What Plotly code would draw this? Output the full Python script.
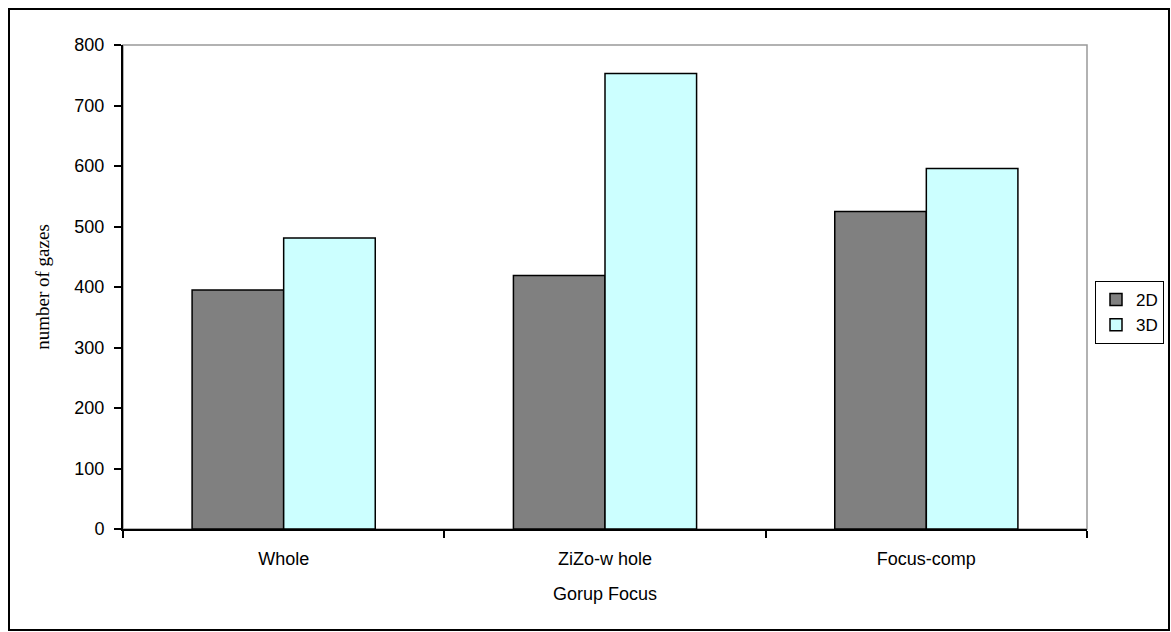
import plotly.graph_objects as go

categories = ["Whole", "ZiZo-w hole", "Focus-comp"]
values_2d = [395, 419, 525]
values_3d = [481, 753, 596]
y_ticks = [0, 100, 200, 300, 400, 500, 600, 700, 800]

W, H = 1171, 632
L, R, T, B = 123, 84, 45, 103
pw, ph = W - L - R, H - T - B


def px_x(x):
    return (x - L) / pw


def px_y(y):
    return (H - B - y) / ph


fig = go.Figure()
fig.add_trace(go.Bar(x=categories, y=values_2d, name="2D",
                     marker=dict(color="#808080", line=dict(color="black", width=1.5))))
fig.add_trace(go.Bar(x=categories, y=values_3d, name="3D",
                     marker=dict(color="#CCFFFF", line=dict(color="black", width=1.5))))

# outer chart frame and gray plot-area frame
fig.add_shape(type="rect", xref="paper", yref="paper",
              x0=px_x(9), x1=px_x(1169), y0=px_y(630), y1=px_y(9),
              line=dict(color="black", width=2), layer="below")
fig.add_shape(type="rect", xref="paper", yref="paper",
              x0=0, x1=1, y0=0, y1=1,
              line=dict(color="#999999", width=1.5), layer="below")

fig.update_layout(
    width=W, height=H,
    margin=dict(l=L, r=R, t=T, b=B, autoexpand=False),
    paper_bgcolor="white", plot_bgcolor="white",
    barmode="group", bargap=0.43, bargroupgap=0,
    font=dict(family="Arial, Liberation Sans", size=18, color="black"),
    showlegend=True,
    legend=dict(x=px_x(1164), y=px_y(281), xanchor="right", yanchor="top",
                bordercolor="black", borderwidth=1, bgcolor="white",
                font=dict(size=17), tracegroupgap=0, itemwidth=30),
    xaxis=dict(
        showline=True, linecolor="black", linewidth=2,
        ticks="outside", ticklen=7, tickwidth=1.5, tickcolor="black",
        tickson="boundaries", showgrid=False, ticklabelstandoff=12,
        title=dict(text="Gorup Focus", font=dict(size=18), standoff=20),
    ),
    yaxis=dict(
        range=[0, 800], tickvals=y_ticks, showgrid=False,
        showline=True, linecolor="black", linewidth=2,
        ticks="outside", ticklen=7, tickwidth=1.5, tickcolor="black",
        zeroline=False, ticklabelstandoff=6,
        title=dict(text="number of gazes",
                   font=dict(family="Liberation Serif, Times New Roman", size=19),
                   standoff=20),
    ),
)

fig.write_html("out.html", config={"displayModeBar": False},
               post_script="document.body.style.margin='0';")
